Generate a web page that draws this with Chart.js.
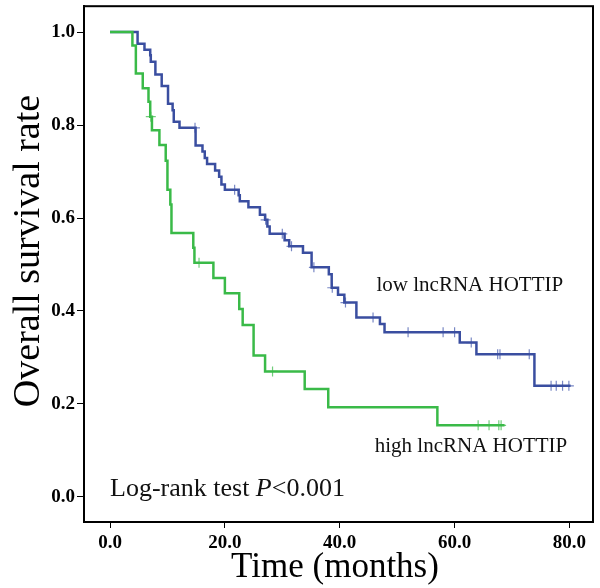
<!DOCTYPE html>
<html lang="en">
<head>
<meta charset="UTF-8">
<title>Overall survival rate</title>
<script src="https://cdn.jsdelivr.net/npm/chart.js"></script>
<style>
  html, body { margin: 0; padding: 0; background: #fff; }
  #wrap { width: 600px; height: 588px; }
</style>
</head>
<body>
<div id="wrap"><canvas id="km" width="600" height="588"></canvas></div>
<script>
// step times (months) and survival right after each step
const highTimes = [0, 3.9, 4.5, 5.7, 6.7, 7.0, 7.3, 8.6, 9.7, 10.0, 10.5, 10.7, 14.5, 14.7, 18.0, 20.0, 22.5, 23.1, 25.0, 27.0, 33.9, 38.0, 57.0];
const highSurv  = [1.0, 0.971, 0.911, 0.879, 0.850, 0.818, 0.789, 0.757, 0.723, 0.661, 0.629, 0.568, 0.536, 0.504, 0.471, 0.438, 0.404, 0.370, 0.304, 0.270, 0.232, 0.193, 0.154];
const highCensored = [7.1, 15.5, 28.3, 64.1, 66.0, 67.7, 68.1];
const highLastSeen = 68.7;

const lowTimes = [0, 4.8, 6.0, 7.0, 7.1, 7.9, 9.0, 10.1, 10.9, 11.1, 12.1, 14.9, 16.1, 16.5, 16.9, 18.3, 19.0, 19.4, 20.0, 22.4,
                  22.6, 24.1, 26.1, 27.0, 27.4, 27.8, 30.4, 31.2, 33.6, 35.1, 38.1, 38.6, 39.7, 40.8, 42.9, 47.0, 47.8, 60.9, 63.8, 73.9];
const lowSurv  = [1.0, 0.975, 0.962, 0.950, 0.936, 0.909, 0.884, 0.846, 0.832, 0.807, 0.794, 0.756, 0.743, 0.729, 0.716, 0.702, 0.689, 0.672, 0.661, 0.649,
                  0.636, 0.623, 0.607, 0.596, 0.582, 0.566, 0.552, 0.539, 0.525, 0.494, 0.479, 0.450, 0.435, 0.418, 0.386, 0.372, 0.354, 0.332, 0.307, 0.239];
const lowCensored = [14.8, 21.7, 27.1, 30.0, 31.6, 35.5, 38.7, 41.0, 45.8, 51.9, 58.0, 60.0, 62.9, 67.5, 67.9, 73.0, 76.8, 77.7, 78.8, 79.9];
const lowLastSeen = 80.2;

const xTicks = [0, 20, 40, 60, 80];
const yTicks = [0, 0.2, 0.4, 0.6, 0.8, 1.0];

const GREEN = 'rgb(58,186,72)';
const GREEN_LIGHT = 'rgba(88,196,100,0.85)';
const BLUE = 'rgb(58,78,160)';
const BLUE_LIGHT = 'rgba(96,114,186,0.85)';
const SERIF = '"Liberation Serif", "Times New Roman", serif';

function stepLine(times, surv, last) {
  const pts = times.map((t, i) => ({ x: t, y: surv[i] }));
  pts.push({ x: last, y: surv[surv.length - 1] });
  return pts;
}

// survival level of the curve at time t (for placing censor marks)
function survAt(times, surv, t) {
  let s = surv[0];
  for (let i = 0; i < times.length; i++) {
    if (times[i] <= t) s = surv[i];
  }
  return s;
}

function censorPoints(times, surv, cens) {
  return cens.map(t => ({ x: t, y: survAt(times, surv, t) }));
}

const annotate = {
  id: 'annotate',
  afterDraw(chart) {
    const { ctx, chartArea: a, scales: { x, y } } = chart;
    ctx.save();
    // box around plot
    ctx.strokeStyle = '#000';
    ctx.lineWidth = 2;
    ctx.strokeRect(a.left, a.top, a.right - a.left, a.bottom - a.top);

    ctx.fillStyle = '#000';
    ctx.textBaseline = 'alphabetic';

    // axis titles
    ctx.textAlign = 'center';
    ctx.font = '35px ' + SERIF;
    ctx.fillText('Time (months)', 335, 577);
    ctx.save();
    ctx.translate(39, 251);
    ctx.rotate(-Math.PI / 2);
    ctx.font = '38px ' + SERIF;
    ctx.fillText('Overall survival rate', 0, 0);
    ctx.restore();

    ctx.fillStyle = '#111';
    ctx.textAlign = 'left';
    ctx.font = '21px ' + SERIF;
    ctx.fillText('low lncRNA HOTTIP', x.getPixelForValue(46.4), y.getPixelForValue(0.443));
    ctx.fillText('high lncRNA HOTTIP', x.getPixelForValue(46.1), y.getPixelForValue(0.097));

    // Log-rank test P<0.001 (P in italic)
    let px = x.getPixelForValue(0);
    const py = y.getPixelForValue(0.002);
    ctx.font = '26px ' + SERIF;
    const p1 = 'Log-rank test ';
    ctx.fillText(p1, px, py);
    px += ctx.measureText(p1).width;
    ctx.font = 'italic 26px ' + SERIF;
    ctx.fillText('P', px, py);
    px += ctx.measureText('P').width;
    ctx.font = '26px ' + SERIF;
    ctx.fillText('<0.001', px, py);
    ctx.restore();
  }
};

new Chart(document.getElementById('km'), {
  type: 'line',
  data: {
    datasets: [
      {
        label: 'high lncRNA HOTTIP',
        data: stepLine(highTimes, highSurv, highLastSeen),
        borderColor: GREEN,
        borderWidth: 2.5,
        stepped: 'before',
        pointRadius: 0,
        fill: false
      },
      {
        label: 'high censored',
        data: censorPoints(highTimes, highSurv, highCensored),
        showLine: false,
        pointStyle: 'cross',
        pointRadius: 5,
        borderWidth: 1.2,
        borderColor: GREEN_LIGHT
      },
      {
        label: 'low lncRNA HOTTIP',
        data: stepLine(lowTimes, lowSurv, lowLastSeen),
        borderColor: BLUE,
        borderWidth: 2.5,
        stepped: 'before',
        pointRadius: 0,
        fill: false
      },
      {
        label: 'low censored',
        data: censorPoints(lowTimes, lowSurv, lowCensored),
        showLine: false,
        pointStyle: 'cross',
        pointRadius: 5,
        borderWidth: 1.2,
        borderColor: BLUE_LIGHT
      }
    ]
  },
  options: {
    responsive: false,
    animation: false,
    devicePixelRatio: 1,
    layout: { padding: { top: 4, right: 7, left: 0, bottom: 0 } },
    plugins: { legend: { display: false }, tooltip: { enabled: false } },
    scales: {
      x: {
        type: 'linear',
        min: -4.53,
        max: 84.1,
        afterBuildTicks: s => { s.ticks = xTicks.map(v => ({ value: v })); },
        afterFit: s => { s.height = 66; s.paddingLeft = 0; s.paddingRight = 0; },
        ticks: {
          callback: v => v.toFixed(1),
          color: '#000',
          padding: 4,
          maxRotation: 0,
          font: { family: SERIF, size: 19, weight: 'bold' }
        },
        grid: { drawOnChartArea: false, drawTicks: true, tickLength: 6, color: '#000', lineWidth: 1 },
        border: { display: true, color: '#000', width: 2 }
      },
      y: {
        type: 'linear',
        min: -0.054,
        max: 1.0557,
        afterBuildTicks: s => { s.ticks = yTicks.map(v => ({ value: v })); },
        afterFit: s => { s.width = 84; s.paddingTop = 0; s.paddingBottom = 0; },
        ticks: {
          callback: v => v.toFixed(1),
          color: '#000',
          padding: 2,
          font: { family: SERIF, size: 19, weight: 'bold' }
        },
        grid: { drawOnChartArea: false, drawTicks: true, tickLength: 7, color: '#000', lineWidth: 1 },
        border: { display: true, color: '#000', width: 2 }
      }
    }
  },
  plugins: [annotate]
});
</script>
</body>
</html>
